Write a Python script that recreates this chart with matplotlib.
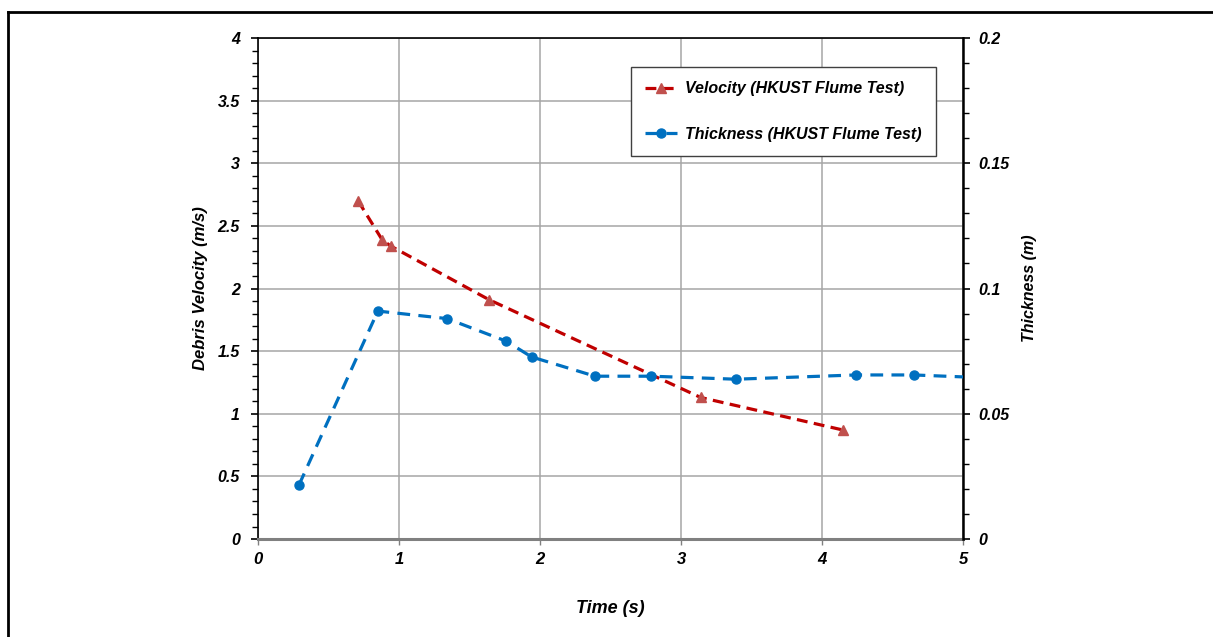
import numpy as np
import matplotlib
matplotlib.use('Agg')
import matplotlib.pyplot as plt
from matplotlib.lines import Line2D
from matplotlib.ticker import MultipleLocator

# HKUST flume test readings
time_vel = [0.71, 0.88, 0.94, 1.64, 3.14, 4.15]
velocity = [2.70, 2.39, 2.34, 1.91, 1.13, 0.87]

time_thk = [0.29, 0.85, 1.34, 1.76, 1.94, 2.39, 2.79, 3.39, 4.24, 4.65, 5.10]
thickness = [0.0215, 0.091, 0.088, 0.079, 0.0727, 0.065, 0.065, 0.0638, 0.0655, 0.0655, 0.0645]

x_ticks = [0, 1, 2, 3, 4, 5]
vel_ticks = [0, 0.5, 1, 1.5, 2, 2.5, 3, 3.5, 4]
vel_labels = ['0', '0.5', '1', '1.5', '2', '2.5', '3', '3.5', '4']
thk_ticks = [0, 0.05, 0.1, 0.15, 0.2]
thk_labels = ['0', '0.05', '0.1', '0.15', '0.2']

RED_LINE = '#C00000'
RED_MARK = '#C0504D'
BLUE = '#0070C0'
FONT = ['Liberation Sans', 'DejaVu Sans']
NARROW = ['Liberation Sans Narrow', 'Liberation Sans', 'DejaVu Sans']

fig = plt.figure(figsize=(12.13, 6.37), dpi=100)
ax = fig.add_axes([0.2127, 0.1538, 0.5812, 0.7865])
ax2 = ax.twinx()

ax.set_xlim(0, 5)
ax.set_ylim(0, 4)
ax2.set_ylim(0, 0.2)

ax.set_xticks(x_ticks)
ax.set_yticks(vel_ticks)
ax.yaxis.set_minor_locator(MultipleLocator(0.1))
ax2.set_yticks(thk_ticks)
ax2.yaxis.set_minor_locator(MultipleLocator(0.01))

ax.grid(True, which='major', color='#A6A6A6', lw=1.1)
ax.set_axisbelow(True)

for a in (ax, ax2):
    for s in a.spines.values():
        s.set_visible(False)
ax.spines['left'].set_visible(True)
ax.spines['left'].set_color('black')
ax.spines['left'].set_linewidth(1.2)
ax.spines['top'].set_visible(True)
ax.spines['top'].set_color('black')
ax.spines['top'].set_linewidth(1.2)
ax.spines['bottom'].set_visible(True)
ax.spines['bottom'].set_color('#808080')
ax.spines['bottom'].set_linewidth(2.2)
ax2.spines['right'].set_visible(True)
ax2.spines['right'].set_color('black')
ax2.spines['right'].set_linewidth(1.8)

ax.tick_params(axis='y', which='major', direction='out', length=5, width=1.2, pad=8)
ax.tick_params(axis='y', which='minor', direction='out', length=4, width=1)
ax.tick_params(axis='x', which='major', direction='out', length=4, width=1, color='#808080', pad=5)
ax2.tick_params(axis='y', which='major', direction='out', length=5, width=1.2, pad=6)
ax2.tick_params(axis='y', which='minor', direction='out', length=4, width=1)

ax.set_yticklabels(vel_labels, fontsize=11.5, fontweight='bold', fontstyle='italic', family=FONT)
ax2.set_yticklabels(thk_labels, fontsize=11.5, fontweight='bold', fontstyle='italic', family=FONT)
ax.set_xticklabels([str(t) for t in x_ticks],
                   fontsize=12, fontweight='bold', fontstyle='italic', family=NARROW)

ax.set_ylabel('Debris Velocity (m/s)', fontsize=12, fontweight='bold',
              fontstyle='italic', family=FONT, labelpad=7)
ax2.set_ylabel('Thickness (m)', fontsize=11.5, fontweight='bold',
               fontstyle='italic', family=FONT, labelpad=9)
ax.set_xlabel('Time (s)', fontsize=13, fontweight='bold', fontstyle='italic',
              family=NARROW, labelpad=24)

# dashed lines, markers drawn on top
vel_dash = (0, (3.4, 2.0))
thk_dash = (0, (4.0, 2.6))
ax.plot(time_vel, velocity, color=RED_LINE, lw=2.3, linestyle=vel_dash,
        dash_capstyle='butt', zorder=3)
ax.plot(time_vel, velocity, linestyle='none', marker='^', ms=7.5,
        color=RED_MARK, zorder=4)

ax2.plot(time_thk, thickness, color=BLUE, lw=2.3, linestyle=thk_dash,
         dash_capstyle='butt', zorder=3)
ax2.plot(time_thk, thickness, linestyle='none', marker='o', ms=6.5,
         color=BLUE, zorder=4)

handles = [
    Line2D([], [], color=RED_LINE, lw=2.3, linestyle=vel_dash,
           marker='^', ms=7.5, mfc=RED_MARK, mec=RED_MARK),
    Line2D([], [], color=BLUE, lw=2.3, linestyle=thk_dash,
           marker='o', ms=6.5, mfc=BLUE, mec=BLUE),
]
leg = ax2.legend(handles, ['Velocity (HKUST Flume Test)', 'Thickness (HKUST Flume Test)'],
                 loc='upper left', bbox_to_anchor=(0.529, 0.942), borderaxespad=0,
                 fancybox=False, framealpha=1, edgecolor='#404040', handlelength=2.0,
                 borderpad=0.9, labelspacing=1.9, handletextpad=0.5,
                 prop={'family': FONT, 'weight': 'bold', 'style': 'italic', 'size': 11.5})
leg.get_frame().set_linewidth(1.0)

# outer frame lines
fig.add_artist(Line2D([8 / 1213, 8 / 1213], [0, 1 - 12 / 637], color='black', lw=2,
                      transform=fig.transFigure))
fig.add_artist(Line2D([8 / 1213, 1], [1 - 12 / 637, 1 - 12 / 637], color='black', lw=2,
                      transform=fig.transFigure))

fig.savefig('out.png', dpi=100)
